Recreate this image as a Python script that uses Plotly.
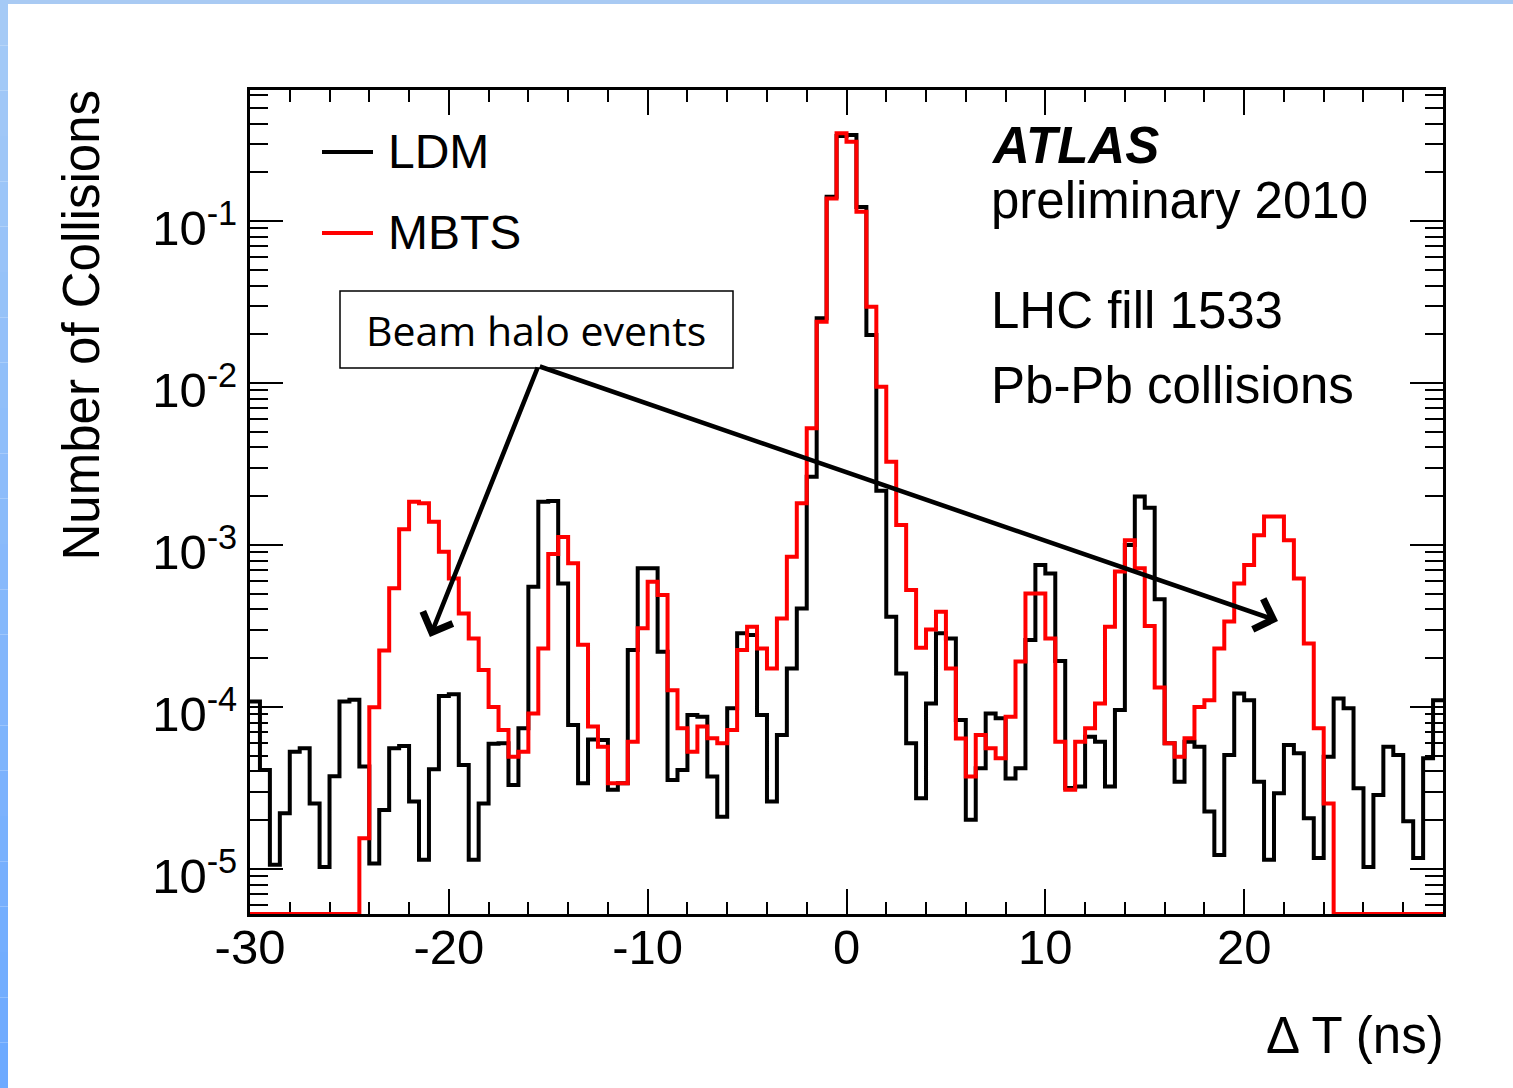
import numpy as np
import plotly.graph_objects as go

# Delta-T histogram binning: 120 bins of 0.5 ns over [-30, 30] ns
t_lo, t_hi, n_bins = -30.0, 30.0, 120

# Normalised number of collisions per bin (LDM timing)
ldm = [
    1.08e-4, 4.08e-5, 1.06e-5, 2.21e-5, 5.30e-5, 5.56e-5, 2.54e-5, 1.03e-5, 3.73e-5, 1.08e-4,
    1.11e-4, 4.29e-5, 1.08e-5, 2.31e-5, 5.56e-5, 5.74e-5, 2.61e-5, 1.14e-5, 4.12e-5, 1.17e-4,
    1.20e-4, 4.39e-5, 1.14e-5, 2.54e-5, 5.92e-5, 5.97e-5, 3.30e-5, 7.40e-5, 5.53e-4, 1.85e-3,
    1.87e-3, 5.79e-4, 7.74e-5, 3.38e-5, 6.31e-5, 6.25e-5, 3.08e-5, 3.38e-5, 2.25e-4, 7.18e-4,
    7.18e-4, 2.19e-4, 3.54e-5, 4.08e-5, 8.93e-5, 8.71e-5, 3.72e-5, 2.10e-5, 9.82e-5, 2.85e-4,
    2.78e-4, 8.93e-5, 2.61e-5, 6.71e-5, 1.73e-4, 4.06e-4, 2.64e-3, 2.51e-2, 1.41e-1, 3.35e-1,
    3.40e-1, 1.22e-1, 1.98e-2, 2.16e-3, 3.61e-4, 1.61e-4, 5.97e-5, 2.73e-5, 1.05e-4, 2.85e-4,
    2.65e-4, 8.32e-5, 2.01e-5, 4.18e-5, 9.10e-5, 8.51e-5, 3.62e-5, 4.18e-5, 2.59e-4, 7.53e-4,
    6.68e-4, 1.92e-4, 3.16e-5, 3.23e-5, 6.56e-5, 6.11e-5, 3.23e-5, 9.57e-5, 1.00e-3, 1.99e-3,
    1.70e-3, 4.62e-4, 5.97e-5, 3.46e-5, 6.11e-5, 5.69e-5, 2.26e-5, 1.22e-5, 5.06e-5, 1.21e-4,
    1.10e-4, 3.46e-5, 1.14e-5, 2.93e-5, 5.82e-5, 5.18e-5, 2.06e-5, 1.17e-5, 4.93e-5, 1.13e-4,
    9.82e-5, 3.15e-5, 1.03e-5, 2.86e-5, 5.69e-5, 5.06e-5, 1.97e-5, 1.17e-5, 4.82e-5, 1.10e-4,
]

# Normalised number of collisions per bin (MBTS timing); empty bins are 0
mbts = [
    0, 0, 0, 0, 0, 0, 0, 0, 0, 0,
    0, 1.55e-5, 9.95e-5, 2.23e-4, 5.40e-4, 1.25e-3, 1.85e-3, 1.81e-3, 1.39e-3, 9.10e-4,
    6.22e-4, 3.78e-4, 2.65e-4, 1.69e-4, 1.00e-4, 7.21e-5, 4.93e-5, 5.30e-5, 9.10e-5, 2.30e-4,
    8.79e-4, 1.12e-3, 7.71e-4, 2.42e-4, 7.57e-5, 5.69e-5, 3.38e-5, 3.38e-5, 6.11e-5, 3.06e-4,
    5.94e-4, 4.91e-4, 1.27e-4, 7.40e-5, 5.30e-5, 7.57e-5, 6.41e-5, 5.97e-5, 7.21e-5, 2.25e-4,
    3.13e-4, 2.30e-4, 1.73e-4, 3.52e-4, 8.47e-4, 1.81e-3, 5.25e-3, 2.39e-2, 1.38e-1, 3.48e-1,
    3.09e-1, 1.14e-1, 2.96e-2, 9.48e-3, 3.27e-3, 1.33e-3, 5.27e-4, 2.32e-4, 3.01e-4, 3.87e-4,
    1.73e-4, 6.40e-5, 3.72e-5, 6.71e-5, 5.56e-5, 4.82e-5, 8.71e-5, 1.91e-4, 5.02e-4, 5.02e-4,
    2.65e-4, 6.11e-5, 3.08e-5, 6.11e-5, 7.38e-5, 1.05e-4, 3.13e-4, 6.85e-4, 1.07e-3, 7.18e-4,
    3.16e-4, 1.32e-4, 5.97e-5, 4.93e-5, 6.41e-5, 1.00e-4, 1.10e-4, 2.30e-4, 3.37e-4, 5.79e-4,
    7.53e-4, 1.15e-3, 1.50e-3, 1.50e-3, 1.07e-3, 6.22e-4, 2.47e-4, 7.38e-5, 2.54e-5, 0,
    0, 0, 0, 0, 0, 0, 0, 0, 0, 0,
]

x_tickvals = [-30, -20, -10, 0, 10, 20]
x_ticktext = ["-30", "-20", "-10", "0", "10", "20"]
y_tickvals = [1e-5, 1e-4, 1e-3, 1e-2, 1e-1]
y_ticktext = ["10<sup>-5</sup>", "10<sup>-4</sup>", "10<sup>-3</sup>",
              "10<sup>-2</sup>", "10<sup>-1</sup>"]

# log10 range of the y axis
y_range = [-5.278, -0.191]
y_floor = 10 ** y_range[0]

edges = np.linspace(t_lo, t_hi, n_bins + 1)


def step_xy(values):
    """Outline of a histogram: one horizontal segment per bin (line_shape='hv')."""
    v = np.asarray(values, dtype=float)
    v = np.where(v > 0, v, y_floor)  # empty bins drawn on the frame bottom
    return edges, np.append(v, v[-1])


FONT = "Liberation Sans, Arial, sans-serif"

fig = go.Figure()
for name, vals, color in [("LDM", ldm, "black"), ("MBTS", mbts, "#ff0000")]:
    xs, ys = step_xy(vals)
    fig.add_trace(go.Scatter(
        x=xs, y=ys, mode="lines", name=name,
        line=dict(color=color, width=4, shape="hv"),
        showlegend=False, hoverinfo="skip",
    ))

# minor ticks of the log axis: 2..9 x 10^n inside the visible range
y_minor = [m * 10.0 ** e for e in range(-6, 0) for m in range(2, 10)
           if y_range[0] <= np.log10(m * 10.0 ** e) <= y_range[1]]

fig.update_xaxes(
    range=[t_lo, t_hi], tickmode="array", tickvals=x_tickvals, ticktext=x_ticktext,
    ticks="inside", ticklen=25, tickwidth=2.2, tickcolor="black",
    minor=dict(ticks="inside", ticklen=12, tickwidth=2.2, tickcolor="black",
               tickmode="linear", tick0=0, dtick=2),
    showline=True, linewidth=3, linecolor="black", mirror="ticks",
    showgrid=False, zeroline=False, layer="below traces",
    ticklabelstandoff=-12,
    tickfont=dict(family=FONT, size=49, color="black"),
)
fig.update_yaxes(
    type="log", range=y_range, tickmode="array", tickvals=y_tickvals, ticktext=y_ticktext,
    ticks="inside", ticklen=33, tickwidth=2.2, tickcolor="black",
    minor=dict(ticks="inside", ticklen=18, tickwidth=2.2, tickcolor="black",
               tickmode="array", tickvals=y_minor),
    showline=True, linewidth=3, linecolor="black", mirror="ticks",
    showgrid=False, zeroline=False, layer="below traces",
    ticklabelshift=7,
    tickfont=dict(family=FONT, size=49, color="black"),
)


def px_x(px):
    return (px - 250) / 1193.0


def px_y(py):
    return (914 - py) / 824.0


annotations = [
    # axis titles
    dict(text="Number of Collisions", textangle=-90, x=px_x(81), y=px_y(88),
         xanchor="center", yanchor="top", font=dict(family=FONT, size=51)),
    dict(text="\u0394 T (ns)", x=px_x(1446), y=px_y(1035),
         xanchor="right", yanchor="middle", font=dict(family=FONT, size=51)),
    # legend entries
    dict(text="LDM", x=px_x(386), y=px_y(152), xanchor="left", yanchor="middle",
         font=dict(family=FONT, size=48)),
    dict(text="MBTS", x=px_x(386), y=px_y(233), xanchor="left", yanchor="middle",
         font=dict(family=FONT, size=48)),
    # experiment label
    dict(text="<b><i>ATLAS</i></b>", x=px_x(989), y=px_y(146), xanchor="left",
         yanchor="middle", font=dict(family=FONT, size=51)),
    dict(text="preliminary 2010", x=px_x(989), y=px_y(200), xanchor="left",
         yanchor="middle", font=dict(family=FONT, size=51)),
    dict(text="LHC fill 1533", x=px_x(989), y=px_y(310), xanchor="left",
         yanchor="middle", font=dict(family=FONT, size=51)),
    dict(text="Pb-Pb collisions", x=px_x(989), y=px_y(386), xanchor="left",
         yanchor="middle", font=dict(family=FONT, size=51)),
    # label box text
    dict(text="Beam halo events", x=px_x(536), y=px_y(330), xanchor="center",
         yanchor="middle", font=dict(family="Open Sans, sans-serif", size=41)),
]
for a in annotations:
    a.update(xref="paper", yref="paper", showarrow=False, font_color="black")

# arrows from the label box to the two halo peaks (data coordinates, log10 for y)
tail = (-15.5, -1.895)
for tip in [(-20.95, -3.568), (21.70, -3.469)]:
    annotations.append(dict(
        x=tip[0], y=tip[1], ax=tail[0], ay=tail[1], xref="x", yref="y",
        axref="x", ayref="y", text="", showarrow=True, arrowhead=4,
        arrowsize=1.35, arrowwidth=4.6, arrowcolor="black", standoff=0,
    ))

shapes = [
    # legend line samples
    dict(type="line", x0=px_x(322), x1=px_x(373), y0=px_y(152), y1=px_y(152),
         line=dict(color="black", width=4)),
    dict(type="line", x0=px_x(322), x1=px_x(373), y0=px_y(233), y1=px_y(233),
         line=dict(color="#ff0000", width=4)),
    # label box
    dict(type="rect", x0=px_x(340), x1=px_x(733), y0=px_y(368), y1=px_y(291),
         line=dict(color="black", width=1.5), fillcolor="white"),
    # slide border: top band
    dict(type="rect", x0=px_x(0), x1=px_x(1513), y0=px_y(4), y1=px_y(0),
         line_width=0, fillcolor="#a9caf3"),
]
# slide border: left band with a vertical colour gradient
top_rgb = np.array([0xa6, 0xcb, 0xf6])
bot_rgb = np.array([0x6c, 0xa9, 0xff])
n_seg = 24
for i in range(n_seg):
    f = (i + 0.5) / n_seg
    c = (top_rgb * (1 - f) + bot_rgb * f).round().astype(int)
    y0 = 1088 * i / n_seg
    y1 = 1088 * (i + 1) / n_seg
    shapes.append(dict(type="rect", x0=px_x(0), x1=px_x(8), y0=px_y(y1), y1=px_y(y0),
                       line_width=0, fillcolor="rgb(%d,%d,%d)" % tuple(c)))
for s in shapes:
    s.update(xref="paper", yref="paper")

fig.update_layout(
    width=1513, height=1088,
    margin=dict(l=250, r=70, t=90, b=174),
    paper_bgcolor="white", plot_bgcolor="white",
    annotations=annotations, shapes=shapes,
    font=dict(family=FONT, color="black"),
    showlegend=False,
)

fig.write_html("out.html")
